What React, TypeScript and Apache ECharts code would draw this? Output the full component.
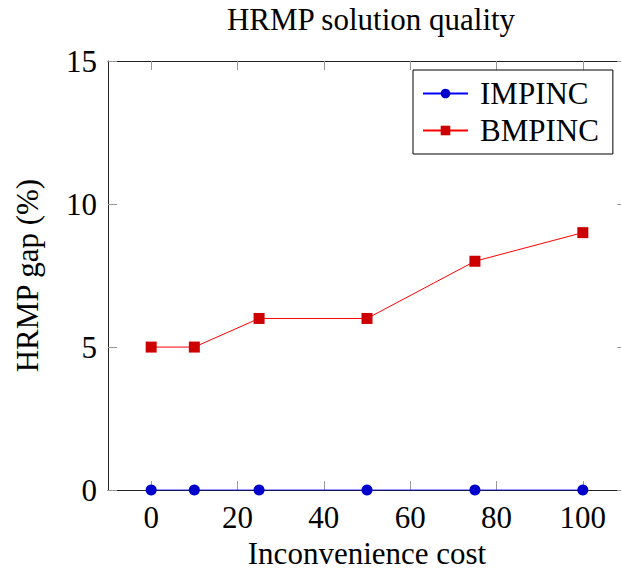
import React, { useEffect, useRef } from "react";
import * as echarts from "echarts";

const costs = [0, 10, 25, 50, 75, 100];
const impinc = [0, 0, 0, 0, 0, 0];
const bmpinc = [5, 5, 6, 6, 8, 9];
const xTicks = [0, 20, 40, 60, 80, 100];
const yTicks = [0, 5, 10, 15];

const FONT = "'Liberation Serif', 'DejaVu Serif', serif";
const FS = 31;
const AXIS_COLOR = "#222";
const TICK_COLOR = "#999";

export default function App() {
  const ref = useRef<HTMLDivElement>(null);

  useEffect(() => {
    if (!ref.current) return;
    const chart = echarts.init(ref.current, null, { renderer: "svg" });
    const tickStyle = { show: true, inside: true, length: 9, lineStyle: { color: TICK_COLOR, width: 1 } };
    const lineStyle = { show: true, onZero: false, lineStyle: { color: AXIS_COLOR, width: 1 } };
    const textStyle = { fontFamily: FONT, fontSize: FS, color: "#000" };

    chart.setOption({
      animation: false,
      backgroundColor: "#fff",
      title: {
        text: "HRMP solution quality",
        left: 366,
        top: -1,
        textAlign: "center",
        textStyle: { ...textStyle, fontWeight: "normal" },
      },
      legend: {
        left: 413,
        top: 70,
        orient: "vertical",
        itemWidth: 45,
        itemHeight: 12,
        itemGap: 6,
        padding: [8, 14, 8, 9],
        borderColor: "#000",
        borderWidth: 1,
        backgroundColor: "#fff",
        textStyle: { ...textStyle, width: 118, padding: [0, 0, 0, 7] },
        data: ["IMPINC", "BMPINC"],
      },
      grid: { left: 108, right: 4, top: 61, bottom: 83 },
      xAxis: [
        {
          type: "value",
          min: -10,
          max: 110,
          name: "Inconvenience cost",
          nameLocation: "middle",
          nameGap: 47,
          nameTextStyle: textStyle,
          axisLine: lineStyle,
          axisTick: { ...tickStyle, customValues: xTicks },
          axisLabel: { ...textStyle, customValues: xTicks, margin: 12 },
          splitLine: { show: false },
        },
        {
          type: "value",
          position: "top",
          min: -10,
          max: 110,
          axisLine: lineStyle,
          axisTick: { ...tickStyle, customValues: xTicks },
          axisLabel: { show: false },
          splitLine: { show: false },
        },
      ],
      yAxis: [
        {
          type: "value",
          min: 0,
          max: 15,
          interval: 5,
          name: "HRMP gap (%)",
          nameLocation: "middle",
          nameGap: 65,
          nameTextStyle: textStyle,
          axisLine: lineStyle,
          axisTick: { ...tickStyle, customValues: yTicks },
          axisLabel: { ...textStyle, customValues: yTicks, margin: 11 },
          splitLine: { show: false },
        },
        {
          type: "value",
          position: "right",
          min: 0,
          max: 15,
          interval: 5,
          axisLine: lineStyle,
          axisTick: { ...tickStyle, customValues: yTicks },
          axisLabel: { show: false },
          splitLine: { show: false },
        },
      ],
      series: [
        {
          name: "IMPINC",
          type: "line",
          data: costs.map((c, i) => [c, impinc[i]]),
          symbol: "circle",
          symbolSize: 11,
          lineStyle: { color: "#0000ff", width: 1 },
          itemStyle: { color: "#0000cc", borderWidth: 0 },
          z: 3,
        },
        {
          name: "BMPINC",
          type: "line",
          data: costs.map((c, i) => [c, bmpinc[i]]),
          symbol: "rect",
          symbolSize: 11,
          lineStyle: { color: "#ff0000", width: 1 },
          itemStyle: { color: "#cc0000", borderWidth: 0 },
          z: 3,
        },
      ],
    });

    return () => chart.dispose();
  }, []);

  return (
    <div
      ref={ref}
      style={{ position: "fixed", left: 0, top: 0, width: 630, height: 574 }}
    />
  );
}
